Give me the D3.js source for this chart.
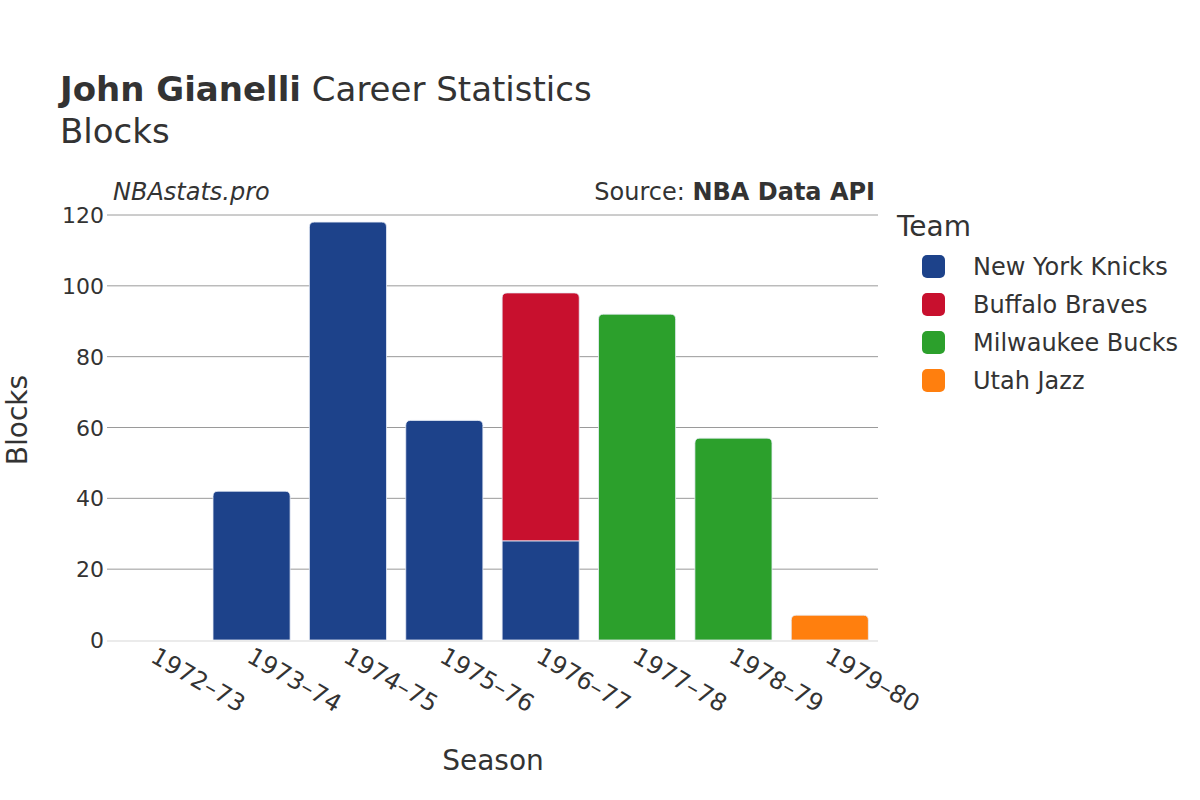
<!DOCTYPE html>
<html>
<head>
<meta charset="utf-8">
<script src="https://cdn.jsdelivr.net/npm/d3@7"></script>
<style>
  body { margin: 0; background: #fff; }
  text { font-family: "DejaVu Sans", sans-serif; fill: #333; }
</style>
</head>
<body>
<svg id="chart" width="1200" height="800"></svg>
<script>
// 시즌 목록
const seasons = ["1972–73", "1973–74", "1974–75", "1975–76", "1976–77", "1977–78", "1978–79", "1979–80"];

// 팀 목록과 색상
const teams = ["New York Knicks", "Buffalo Braves", "Milwaukee Bucks", "Utah Jazz"];
const teamColors = ["#1d428a", "#c8102e", "#2ca02c", "#ff7f0e"];

// 팀별 시즌 블록 수 (시즌 순서대로)
const knicksBlocks = [0, 42, 118, 62, 28, 0, 0, 0];
const bravesBlocks = [0, 0, 0, 0, 70, 0, 0, 0];
const bucksBlocks  = [0, 0, 0, 0, 0, 92, 57, 0];
const jazzBlocks   = [0, 0, 0, 0, 0, 0, 0, 7];

const yTicks = [0, 20, 40, 60, 80, 100, 120];

const seriesValues = [knicksBlocks, bravesBlocks, bucksBlocks, jazzBlocks];

// 플롯 영역
const plotLeft = 107, plotRight = 878, plotTop = 215, plotBottom = 640;

const svg = d3.select("#chart");

const x = d3.scaleBand().domain(seasons).range([plotLeft, plotRight]).paddingInner(0.2).paddingOuter(0.1);
const y = d3.scaleLinear().domain([0, 120]).range([plotBottom, plotTop]);
const color = d3.scaleOrdinal().domain(teams).range(teamColors);

// 그리드
svg.append("g")
  .selectAll("line")
  .data(yTicks.filter(t => t > 0))
  .enter().append("line")
  .attr("x1", plotLeft).attr("x2", plotRight)
  .attr("y1", d => y(d)).attr("y2", d => y(d))
  .attr("stroke", "#9a9a9a").attr("stroke-width", 1);

// 스택 데이터 만들기
const rows = seasons.map((s, i) => {
  const r = { season: s };
  teams.forEach((t, j) => r[t] = seriesValues[j][i]);
  return r;
});
const stacked = d3.stack().keys(teams)(rows);

// 각 시즌의 맨 위 팀 찾기 (둥근 모서리용)
const topTeam = seasons.map((s, i) => {
  let top = null;
  teams.forEach((t, j) => { if (seriesValues[j][i] > 0) top = t; });
  return top;
});

function barPath(x0, y0, w, h, r) {
  if (h <= 0) return "";
  r = Math.min(r, h, w / 2);
  return `M${x0},${y0 + h} V${y0 + r} Q${x0},${y0} ${x0 + r},${y0} H${x0 + w - r} Q${x0 + w},${y0} ${x0 + w},${y0 + r} V${y0 + h} Z`;
}

stacked.forEach(layer => {
  svg.append("g")
    .selectAll("path")
    .data(layer.filter(d => d[1] - d[0] > 0))
    .enter().append("path")
    .attr("d", d => {
      const i = seasons.indexOf(d.data.season);
      const rad = topTeam[i] === layer.key ? 5 : 0;
      return barPath(x(d.data.season), y(d[1]), x.bandwidth(), y(d[0]) - y(d[1]), rad);
    })
    .attr("fill", color(layer.key))
    .attr("stroke", "#e8eef7")
    .attr("stroke-width", 0.8);
});

// 0 기준선
svg.append("line")
  .attr("x1", plotLeft).attr("x2", plotRight)
  .attr("y1", y(0) + 1).attr("y2", y(0) + 1)
  .attr("stroke", "#ebebeb").attr("stroke-width", 2);

// Y축 눈금
svg.append("g")
  .selectAll("text")
  .data(yTicks)
  .enter().append("text")
  .attr("x", 104).attr("y", d => y(d) + 8)
  .attr("text-anchor", "end")
  .style("font-size", "22px")
  .text(d => d);

// X축 눈금 (회전)
svg.append("g")
  .selectAll("text")
  .data(seasons)
  .enter().append("text")
  .attr("transform", d => `translate(${x(d) + x.bandwidth() / 2 - 6},${plotBottom + 21}) rotate(30)`)
  .attr("text-anchor", "start")
  .style("font-size", "24px")
  .text(d => d);

// 제목
const title = svg.append("text").attr("x", 60).attr("y", 101).style("font-size", "34px");
title.append("tspan").style("font-weight", "bold").text("John Gianelli");
title.append("tspan").text(" Career Statistics");
svg.append("text").attr("x", 60).attr("y", 143).style("font-size", "34px").text("Blocks");

// 워터마크와 출처
svg.append("text").attr("x", 113).attr("y", 200)
  .style("font-size", "24px").style("font-style", "italic").text("NBAstats.pro");
const src = svg.append("text").attr("x", 875).attr("y", 200)
  .attr("text-anchor", "end").style("font-size", "24px");
src.append("tspan").text("Source: ");
src.append("tspan").style("font-weight", "bold").text("NBA Data API");

// 축 제목
svg.append("text").attr("x", 493).attr("y", 770).attr("text-anchor", "middle")
  .style("font-size", "28px").text("Season");
svg.append("text").attr("transform", "translate(27,420) rotate(-90)").attr("text-anchor", "middle")
  .style("font-size", "28px").text("Blocks");

// 범례
svg.append("text").attr("x", 897).attr("y", 236).style("font-size", "28px").text("Team");
const legend = svg.append("g")
  .selectAll("g")
  .data(teams)
  .enter().append("g")
  .attr("transform", (d, i) => `translate(922,${266 + i * 38})`);
legend.append("rect")
  .attr("x", 0).attr("y", -11).attr("width", 23).attr("height", 23)
  .attr("rx", 5).attr("fill", d => color(d));
legend.append("text")
  .attr("x", 51).attr("y", 9)
  .style("font-size", "24px")
  .text(d => d);
</script>
</body>
</html>
